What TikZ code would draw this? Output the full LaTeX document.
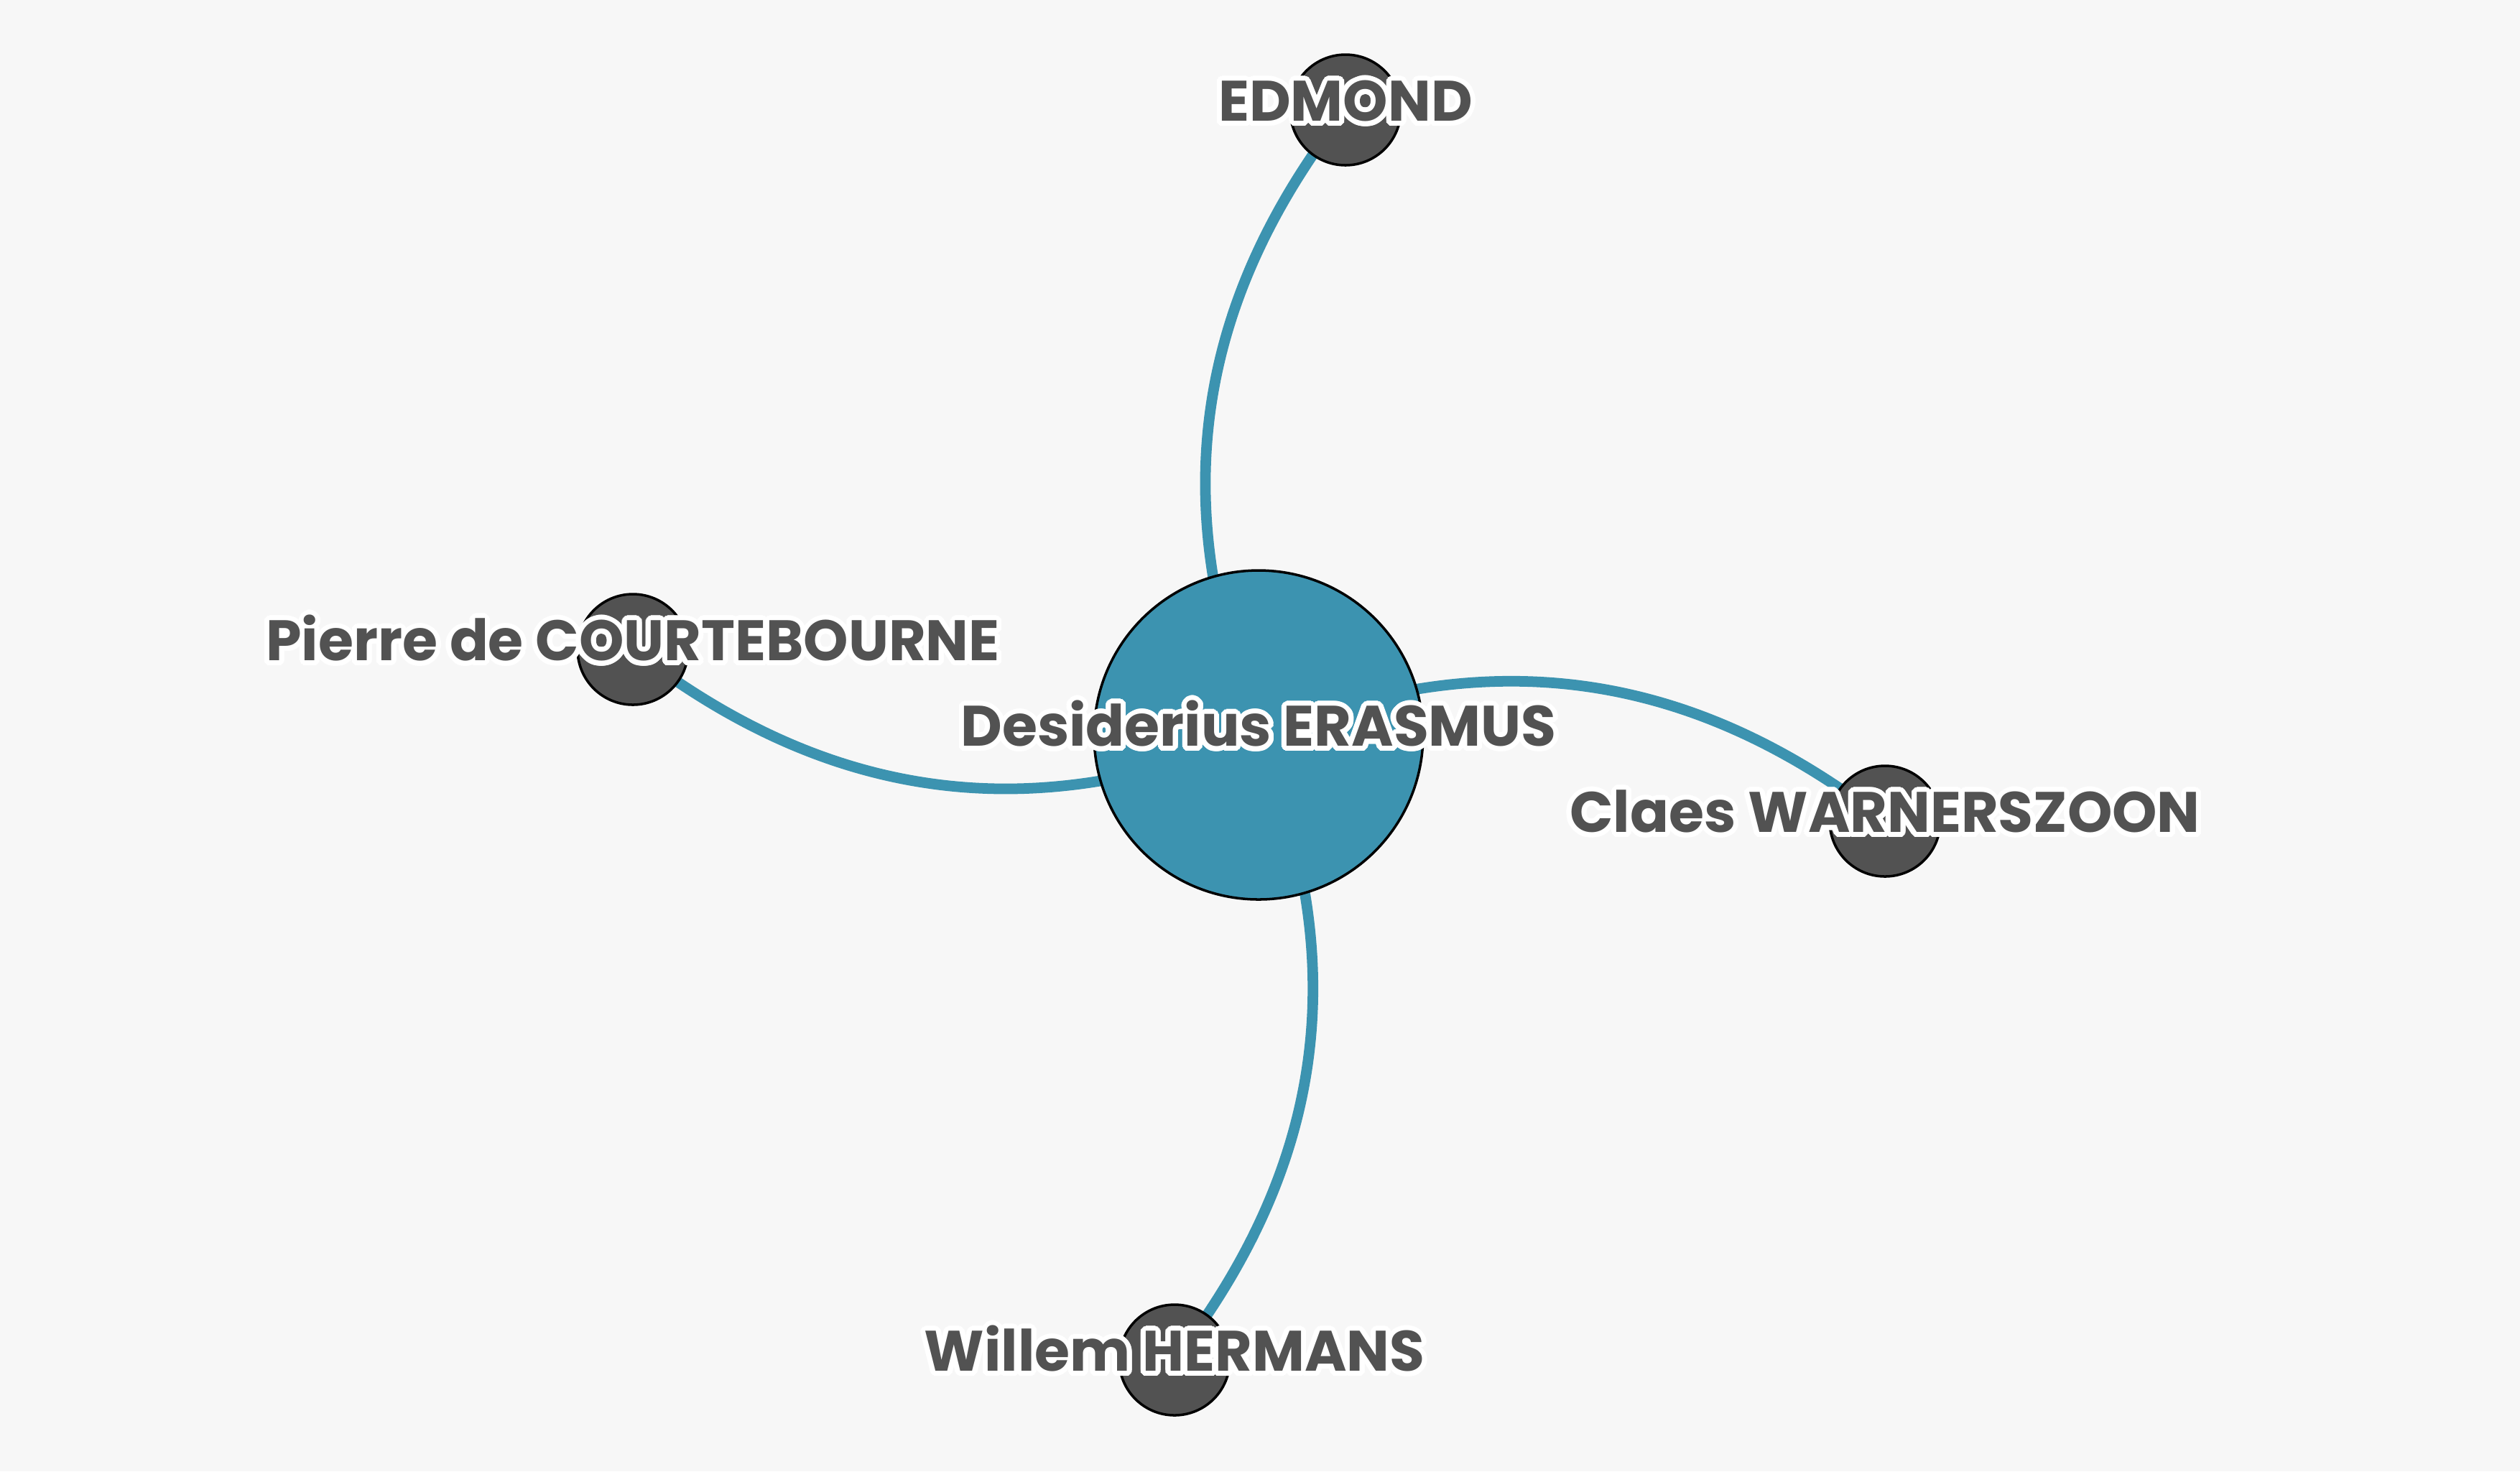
\documentclass[tikz,border=0pt]{standalone}
\usepackage{fontspec}
\setmainfont{Poppins}
\usepackage[copies]{contour}
\contourlength{0.7mm}
\contournumber{32}
\definecolor{bgcol}{HTML}{F7F7F7}
\definecolor{linkteal}{HTML}{3C93B0}
\definecolor{nodegrey}{HTML}{525252}
\usetikzlibrary{backgrounds}

\begin{document}
\begin{tikzpicture}[
  hub/.style={circle, draw=black, line width=1pt, fill=linkteal,
              minimum size=4.58cm, inner sep=0pt},
  leaf/.style={circle, draw=black, line width=1pt, fill=nodegrey,
               minimum size=1.54cm, inner sep=0pt},
  lbl/.style={font=\fontsize{22.6}{26}\selectfont\bfseries, text=nodegrey,
              text height=1.55ex, text depth=0pt, inner sep=0pt, yshift=-0.1mm},
  link/.style={draw=linkteal, line width=4.2pt, bend left=30}
]
\useasboundingbox (0,0) rectangle (35.08,-20.48);

% Nodes
\node[hub]  (eras) at (17.52,-10.23) {};
\node[leaf] (edm)  at (18.73, -1.53) {};
\node[leaf] (pier) at ( 8.81, -9.04) {};
\node[leaf] (claes) at (26.24,-11.43) {};
\node[leaf] (will) at (16.35,-18.93) {};

% Links
\begin{scope}[on background layer]
\fill[bgcol] (0,0) rectangle (35.08,-20.48);
\draw[link] (eras.center) to (edm.center);
\draw[link] (eras.center) to (pier.center);
\draw[link] (eras.center) to (claes.center);
\draw[link] (eras.center) to (will.center);
\end{scope}

% Labels
\node[lbl] (eraslbl)  at (eras)  {\contour{white}{Desiderius ERASMUS}};
\node[lbl] (edmlbl)   at (edm)   {\contour{white}{EDMOND}};
\node[lbl] (pierlbl)  at (pier)  {\contour{white}{Pierre de COURTEBOURNE}};
\node[lbl] (claeslbl) at (claes) {\contour{white}{Claes WARNERSZOON}};
\node[lbl] (willlbl)  at (will)  {\contour{white}{Willem HERMANS}};
\end{tikzpicture}
\end{document}
